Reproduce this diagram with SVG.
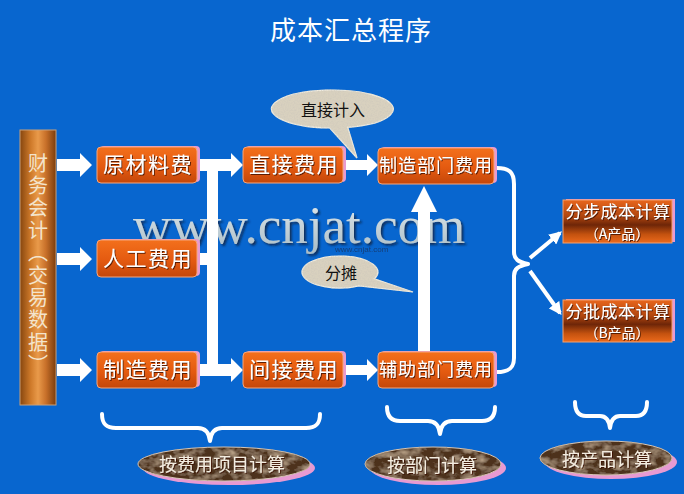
<svg xmlns="http://www.w3.org/2000/svg" width="684" height="494" viewBox="0 0 684 494">
<defs>
<style>
.cjk{font-family:"Noto Sans CJK SC","Noto Sans",sans-serif}
.bt{font-size:21px;fill:#fff;text-anchor:middle;letter-spacing:1.5px;filter:url(#tsh)}
.bt2{font-size:18px;fill:#fff;text-anchor:middle;letter-spacing:1px;filter:url(#tsh)}
.rt{font-size:17px;fill:#fff;text-anchor:middle;letter-spacing:0.5px;filter:url(#tsh)}
.rt2{font-size:14px;fill:#fff;text-anchor:middle;filter:url(#tsh)}
.et{font-size:18px;fill:#f4ecdf;text-anchor:middle;filter:url(#tsh)}
.bub{font-size:16px;fill:#111;text-anchor:middle}
.box{fill:url(#og);stroke:#f5a67c;stroke-width:1}
.rbox{fill:url(#rg);stroke:#f0a070;stroke-width:1}
.pink{fill:#e89ad0}
.wh{fill:#fff}
.brace{fill:none;stroke:#fff;stroke-width:4;stroke-linecap:round;stroke-linejoin:round}
.eshadow{fill:#e79ad2}
.ell{fill:#4e321c;stroke:#d8c8b8;stroke-width:1;filter:url(#marble)}
.bubble{fill:#d9d1bf;stroke:#f0ece0;stroke-width:1.2;filter:url(#grain)}
</style>
<linearGradient id="og" x1="0" y1="0" x2="0" y2="1">
<stop offset="0" stop-color="#f3701c"/>
<stop offset="0.55" stop-color="#e45a10"/>
<stop offset="1" stop-color="#c4470a"/>
</linearGradient>
<linearGradient id="rg" x1="0" y1="0" x2="0" y2="1">
<stop offset="0" stop-color="#e8661c"/>
<stop offset="0.38" stop-color="#b0460f"/>
<stop offset="0.58" stop-color="#6e2608"/>
<stop offset="0.8" stop-color="#c4520f"/>
<stop offset="1" stop-color="#ec6a1c"/>
</linearGradient>
<linearGradient id="barg" x1="0" y1="0" x2="1" y2="0">
<stop offset="0" stop-color="#86460f"/>
<stop offset="0.3" stop-color="#cf7a2a"/>
<stop offset="0.5" stop-color="#e99a4a"/>
<stop offset="0.72" stop-color="#c8702a"/>
<stop offset="1" stop-color="#7a3c0c"/>
</linearGradient>
<linearGradient id="wmg" x1="0" y1="0" x2="0" y2="1">
<stop offset="0" stop-color="#e4ecef"/>
<stop offset="1" stop-color="#a9bcc6"/>
</linearGradient>
<filter id="tsh" x="-10%" y="-20%" width="130%" height="150%">
<feDropShadow dx="1" dy="1" stdDeviation="0.6" flood-color="#3a1000" flood-opacity="0.8"/>
</filter>
<filter id="wsh" x="-5%" y="-20%" width="110%" height="150%">
<feDropShadow dx="2" dy="2" stdDeviation="1.2" flood-color="#102040" flood-opacity="0.8"/>
</filter>
<filter id="marble" x="-5%" y="-10%" width="110%" height="120%">
<feTurbulence type="fractalNoise" baseFrequency="0.08 0.12" numOctaves="3" seed="7" result="n"/>
<feColorMatrix in="n" type="matrix" values="0 0 0 0 0.5 0 0 0 0 0.37 0 0 0 0 0.25 2.0 0 0 0 -0.85" result="lt"/>
<feComposite in="lt" in2="SourceGraphic" operator="in" result="lt2"/>
<feMerge><feMergeNode in="SourceGraphic"/><feMergeNode in="lt2"/></feMerge>
</filter>
<filter id="grain" x="-5%" y="-10%" width="110%" height="120%">
<feTurbulence type="fractalNoise" baseFrequency="0.7" numOctaves="2" seed="3" result="n"/>
<feColorMatrix in="n" type="matrix" values="0 0 0 0 0.62 0 0 0 0 0.58 0 0 0 0 0.5 1.6 0 0 0 -0.6" result="lt"/>
<feComposite in="lt" in2="SourceGraphic" operator="in" result="lt2"/>
<feMerge><feMergeNode in="SourceGraphic"/><feMergeNode in="lt2"/></feMerge>
</filter>
<marker id="ah" viewBox="0 0 10 10" refX="8" refY="5" markerWidth="3.2" markerHeight="3.2" orient="auto" markerUnits="strokeWidth">
<path d="M0 0 L10 5 L0 10 Z" fill="#fff"/>
</marker>
</defs>

<rect x="0" y="0" width="684" height="494" fill="#0866cf"/>

<text class="cjk" x="351" y="40" font-size="26" fill="#fff" text-anchor="middle" letter-spacing="1">成本汇总程序</text>

<g id="watermark">
<text x="133" y="243" font-family="Liberation Serif, serif" font-size="53" fill="url(#wmg)" filter="url(#wsh)">www.cnjat.com</text>
<text x="335" y="252" font-family="Liberation Sans, sans-serif" font-size="8" fill="#1a2c50" opacity="0.7">www.cnjat.com</text>
</g>

<g id="connectors">
<path class="wh" d="M57 159 H80 V153 L92 165 L80 177 V171 H57 Z"/>
<path class="wh" d="M57 253 H80 V247 L92 259 L80 271 V265 H57 Z"/>
<path class="wh" d="M57 364 H80 V358 L92 370 L80 382 V376 H57 Z"/>
<path class="wh" d="M197 159 H231 V153 L243 165 L231 177 V171 H197 Z"/>
<path class="wh" d="M197 364 H231 V358 L243 370 L231 382 V376 H197 Z"/>
<rect class="wh" x="197" y="253" width="16" height="12"/>
<rect class="wh" x="207" y="160" width="11" height="215"/>
<path class="wh" d="M345 160 H367 V154 L378 165 L367 176 V170 H345 Z"/>
<path class="wh" d="M345 365 H367 V359 L378 370 L367 381 V375 H345 Z"/>
<path class="wh" d="M418 352 V212 H411 L424 186 L437 212 H430 V352 Z"/>
<path class="brace" d="M497 168 C509 168 514 172 514 184 L514 252 C514 259 518 262 528 264 C518 266 514 269 514 276 L514 358 C514 368 509 372 497 372"/>
<line x1="530" y1="258" x2="560" y2="233" stroke="#fff" stroke-width="4" marker-end="url(#ah)"/>
<line x1="530" y1="271" x2="560" y2="313" stroke="#fff" stroke-width="4" marker-end="url(#ah)"/>
<path class="brace" d="M102 414 C102 424 106 428 116 428 L198 428 C205 428 209 432 210 441 C211 432 215 428 222 428 L306 428 C316 428 320 424 320 414"/>
<path class="brace" d="M387 407 C387 416 391 421 400 421 L428 421 C435 421 439 425 440 434 C441 425 445 421 452 421 L482 421 C491 421 495 416 495 407"/>
<path class="brace" d="M575 402 C575 411 578 416 586 416 L600 416 C606 416 609 420 610 428 C611 420 614 416 620 416 L636 416 C644 416 647 411 647 402"/>
</g>

<g id="node-source">
<rect x="20" y="130" width="36" height="275" fill="url(#barg)" stroke="#c9a07a" stroke-width="1"/>
<text class="cjk" x="38" y="153" font-size="20" fill="#f3e4cc" letter-spacing="2.4" style="writing-mode:vertical-rl">财务会计（交易数据）</text>
</g>

<g id="node-yuancailiao">
<rect class="pink" x="100" y="146" width="100" height="36" rx="4"/>
<rect class="box" x="97" y="147" width="100" height="36" rx="4"/>
<text class="cjk bt" x="148" y="172">原材料费</text>
</g>
<g id="node-rengong">
<rect class="pink" x="100" y="239" width="100" height="37" rx="4"/>
<rect class="box" x="97" y="240" width="100" height="37" rx="4"/>
<text class="cjk bt" x="148" y="266">人工费用</text>
</g>
<g id="node-zhizao">
<rect class="pink" x="100" y="351" width="100" height="36" rx="4"/>
<rect class="box" x="97" y="352" width="100" height="36" rx="4"/>
<text class="cjk bt" x="148" y="377">制造费用</text>
</g>
<g id="node-zhijie">
<rect class="pink" x="246" y="146" width="100" height="36" rx="4"/>
<rect class="box" x="243" y="147" width="100" height="36" rx="4"/>
<text class="cjk bt" x="294" y="172">直接费用</text>
</g>
<g id="node-jianjie">
<rect class="pink" x="246" y="351" width="100" height="36" rx="4"/>
<rect class="box" x="243" y="352" width="100" height="36" rx="4"/>
<text class="cjk bt" x="294" y="377">间接费用</text>
</g>
<g id="node-zhizaobumen">
<rect class="pink" x="381" y="147" width="116" height="36" rx="4"/>
<rect class="box" x="378" y="148" width="116" height="36" rx="4"/>
<text class="cjk bt2" x="436" y="172">制造部门费用</text>
</g>
<g id="node-fuzhu">
<rect class="pink" x="381" y="351" width="116" height="36" rx="4"/>
<rect class="box" x="378" y="352" width="116" height="36" rx="4"/>
<text class="cjk bt2" x="436" y="376">辅助部门费用</text>
</g>
<g id="node-fenbu">
<rect class="pink" x="566" y="199" width="109" height="43"/>
<rect class="rbox" x="563" y="200" width="109" height="43"/>
<text class="cjk rt" x="618" y="218">分步成本计算</text>
<text class="cjk rt2" x="617" y="239">（A产品）</text>
</g>
<g id="node-fenpi">
<rect class="pink" x="566" y="299" width="109" height="42"/>
<rect class="rbox" x="563" y="300" width="109" height="42"/>
<text class="cjk rt" x="618" y="318">分批成本计算</text>
<text class="cjk rt2" x="617" y="338">（B产品）</text>
</g>

<g id="bubble-zhijie">
<path class="bubble" d="M347.8 127.4 A61 19 0 1 0 329.8 128 L357 158 Z"/>
<text class="cjk bub" x="333" y="116" font-size="17">直接计入</text>
</g>
<g id="bubble-fentan">
<path class="bubble" d="M374.4 278.8 A38 16 0 1 0 359 285.9 L413 292 Z"/>
<text class="cjk bub" x="341" y="279">分摊</text>
</g>

<g id="label-xiangmu">
<ellipse class="eshadow" cx="229" cy="468" rx="86" ry="17"/>
<ellipse class="ell" cx="224" cy="464" rx="86" ry="17"/>
<text class="cjk et" x="222" y="471">按费用项目计算</text>
</g>
<g id="label-bumen">
<ellipse class="eshadow" cx="438" cy="468" rx="68" ry="17"/>
<ellipse class="ell" cx="433" cy="464" rx="68" ry="17"/>
<text class="cjk et" x="432" y="472">按部门计算</text>
</g>
<g id="label-chanpin">
<ellipse class="eshadow" cx="611" cy="462" rx="66" ry="17"/>
<ellipse class="ell" cx="606" cy="458" rx="66" ry="17"/>
<text class="cjk et" x="607" y="466">按产品计算</text>
</g>
</svg>
